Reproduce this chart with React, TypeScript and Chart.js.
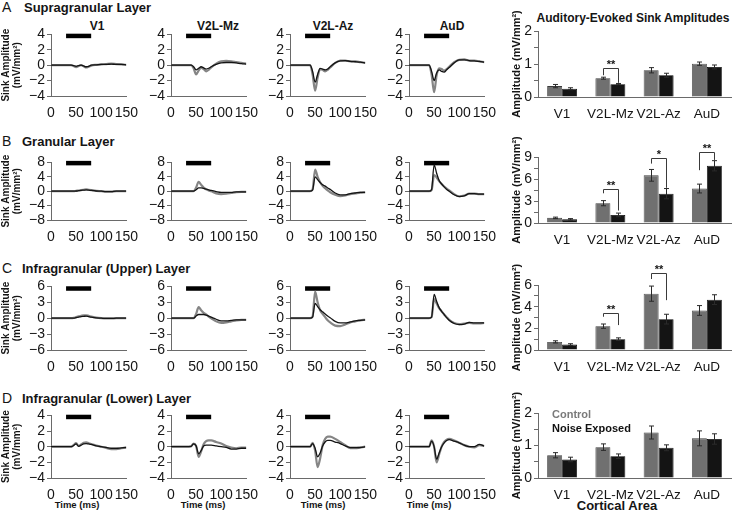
import React, { useEffect, useRef } from 'react';
import { Chart, registerables } from 'chart.js';

Chart.register(...registerables);

// ---------------- data ----------------
const TIME_MS = [0, 10, 20, 30, 40, 45, 50, 55, 60, 65, 70, 75, 80, 90, 100, 110, 120, 130, 140, 150];
const STIMULUS_MS = [30, 80];
const AREAS = ['V1', 'V2L-Mz', 'V2L-Az', 'AuD'];
const LAYER_LETTERS = ['A', 'B', 'C', 'D'];
const LAYER_NAMES = ['Supragranular Layer', 'Granular Layer', 'Infragranular (Upper) Layer', 'Infragranular (Lower) Layer'];
const SERIES_NAMES = ['Control', 'Noise Exposed'];

const LINE_Y_MAX = [4, 8, 6, 4];
const LINE_Y_STEP = [2, 4, 3, 2];
const STIM_LEVEL = [3.8, 7.8, 5.6, 3.8];
const BAR_Y_MAX = [2, 9, 6, 2];
const BAR_Y_MAJOR = [1, 3, 2, 1];
const BAR_Y_MINOR = [0.5, 1.5, 1, 0.5];

// Row A – supragranular
const A_V1_CTRL = [0, 0, 0, 0, 0, -0.1, -0.25, -0.1, 0, -0.15, -0.3, -0.2, -0.05, 0.05, 0.1, 0.15, 0.2, 0.15, 0.1, 0.05];
const A_V1_NOISE = [0, 0, 0, 0, 0, -0.05, -0.15, -0.05, 0, -0.1, -0.2, -0.15, 0, 0.05, 0.1, 0.1, 0.15, 0.1, 0.1, 0.05];
const A_MZ_CTRL = [0, 0, 0, 0, 0, -0.4, -1.2, -0.7, -0.35, -0.5, -0.8, -0.6, -0.3, 0.2, 0.5, 0.55, 0.5, 0.4, 0.3, 0.2];
const A_MZ_NOISE = [0, 0, 0, 0, 0, -0.2, -0.6, -0.4, -0.2, -0.35, -0.5, -0.4, -0.2, 0.1, 0.3, 0.35, 0.35, 0.3, 0.2, 0.15];
const A_AZ_CTRL = [0, 0, 0, 0, 0, -1.2, -3.3, -1.6, -0.5, -0.6, -0.8, -0.6, -0.3, 0.3, 0.6, 0.6, 0.5, 0.5, 0.4, 0.3];
const A_AZ_NOISE = [0, 0, 0, 0, 0, -0.8, -2.2, -1.2, -0.4, -0.5, -0.6, -0.5, -0.2, 0.3, 0.55, 0.6, 0.5, 0.45, 0.4, 0.3];
const A_AUD_CTRL = [0, 0, 0, 0, 0, -1.2, -3.5, -1.3, -0.4, -0.5, -0.7, -0.5, -0.2, 0.4, 0.7, 0.75, 0.6, 0.6, 0.5, 0.4];
const A_AUD_NOISE = [0, 0, 0, 0, 0, -0.8, -2.0, -1.0, -0.6, -0.8, -0.9, -0.6, -0.3, 0.3, 0.7, 0.7, 0.6, 0.55, 0.5, 0.4];

// Row B – granular
const B_V1_CTRL = [0, 0, 0, 0, 0, 0, 0.1, 0.2, 0.3, 0.4, 0.5, 0.4, 0.3, 0.1, 0, -0.1, -0.1, 0, 0, 0];
const B_V1_NOISE = [0, 0, 0, 0, 0, 0, 0.05, 0.15, 0.25, 0.3, 0.35, 0.3, 0.2, 0.05, 0, -0.1, -0.1, 0, 0, 0];
const B_MZ_CTRL = [0, 0, 0, 0, 0, 0, 1.0, 2.6, 1.8, 1.0, 0.5, 0.2, 0, -0.6, -0.8, -0.7, -0.5, -0.3, -0.2, -0.2];
const B_MZ_NOISE = [0, 0, 0, 0, 0, 0, 0.4, 0.9, 0.9, 0.8, 0.6, 0.4, 0.2, -0.1, -0.3, -0.3, -0.3, -0.2, -0.2, -0.2];
const B_AZ_CTRL = [0, 0, 0, 0, 0, 0.5, 6.0, 4.0, 2.5, 1.5, 0.8, 0.2, -0.3, -1.0, -1.4, -1.2, -0.8, -0.6, -0.4, -0.3];
const B_AZ_NOISE = [0, 0, 0, 0, 0, 0.3, 4.0, 3.2, 2.4, 1.8, 1.4, 0.9, 0.5, -0.5, -1.0, -1.0, -0.7, -0.5, -0.3, -0.3];
const B_AUD_CTRL = [0, 0, 0, 0, 0, 0.3, 4.5, 3.8, 2.8, 2.0, 1.3, 0.7, 0.2, -0.8, -1.4, -1.2, -0.7, -0.7, -0.8, -0.8];
const B_AUD_NOISE = [0, 0, 0, 0, 0, 0.5, 7.3, 5.0, 3.0, 2.0, 1.2, 0.5, 0, -1.0, -1.5, -1.3, -0.7, -0.7, -0.8, -0.8];

// Row C – infragranular (upper)
const C_V1_CTRL = [0, 0, 0, 0, 0, 0.05, 0.2, 0.35, 0.45, 0.55, 0.55, 0.45, 0.3, 0.1, 0, -0.05, -0.05, 0, 0, 0];
const C_V1_NOISE = [0, 0, 0, 0, 0, 0, 0.1, 0.2, 0.3, 0.35, 0.4, 0.3, 0.2, 0.05, 0, -0.05, -0.05, 0, 0, 0];
const C_MZ_CTRL = [0, 0, 0, 0, 0, 0, 0.8, 2.1, 1.5, 1.0, 0.7, 0.3, 0, -0.6, -0.9, -0.8, -0.6, -0.4, -0.3, -0.3];
const C_MZ_NOISE = [0, 0, 0, 0, 0, 0, 0.4, 0.7, 0.7, 0.7, 0.6, 0.4, 0.2, -0.2, -0.5, -0.5, -0.4, -0.3, -0.3, -0.3];
const C_AZ_CTRL = [0, 0, 0, 0, 0, 0.3, 5.0, 3.0, 1.5, 0.8, 0.2, -0.4, -0.8, -1.4, -1.5, -1.2, -0.8, -0.6, -0.4, -0.3];
const C_AZ_NOISE = [0, 0, 0, 0, 0, 0.2, 2.8, 2.2, 1.6, 1.2, 0.8, 0.4, 0.1, -0.6, -0.9, -0.9, -0.7, -0.5, -0.4, -0.3];
const C_AUD_CTRL = [0, 0, 0, 0, 0, 0.2, 3.6, 2.8, 1.9, 1.3, 0.7, 0.2, -0.3, -0.9, -1.1, -1.0, -0.9, -1.0, -1.0, -0.9];
const C_AUD_NOISE = [0, 0, 0, 0, 0, 0.2, 4.5, 3.2, 2.0, 1.3, 0.7, 0.1, -0.4, -1.0, -1.2, -1.1, -0.8, -0.9, -0.9, -0.9];

// Row D – infragranular (lower)
const D_V1_CTRL = [0, 0, 0, 0, 0, 0.2, 0.45, 0.1, 0.3, 0.5, 0.55, 0.45, 0.35, 0.15, 0, -0.15, -0.3, -0.3, -0.2, -0.1];
const D_V1_NOISE = [0, 0, 0, 0, 0, 0.15, 0.35, 0.05, 0.2, 0.35, 0.4, 0.35, 0.3, 0.1, 0, -0.1, -0.2, -0.2, -0.15, -0.1];
const D_MZ_CTRL = [0, 0, 0, 0, 0.05, 0.4, 0.1, -1.3, -0.6, 0.3, 0.7, 0.8, 0.8, 0.6, 0.4, 0.1, -0.1, -0.2, -0.1, -0.1];
const D_MZ_NOISE = [0, 0, 0, 0, 0.05, 0.35, 0.1, -0.9, -0.5, 0.1, 0.2, 0.2, 0.2, 0.1, 0, -0.1, -0.3, -0.3, -0.2, -0.2];
const D_AZ_CTRL = [0, 0, 0, 0, 0, 0.5, -0.5, -2.6, -1.5, 0.2, 1.0, 1.3, 1.3, 1.0, 0.6, 0.2, -0.2, -0.2, -0.1, 0];
const D_AZ_NOISE = [0, 0, 0, 0, 0, 0.4, -0.2, -1.3, -0.8, 0.1, 0.6, 0.8, 0.8, 0.6, 0.4, 0.1, -0.1, -0.1, -0.1, 0];
const D_AUD_CTRL = [0, 0, 0, 0, 0, 0.8, 0, -2.0, -1.0, 0, 0.6, 0.9, 1.0, 0.8, 0.5, 0.2, 0, -0.1, 0.2, 0.1];
const D_AUD_NOISE = [0, 0, 0, 0, 0, 0.7, 0, -1.6, -0.8, 0, 0.5, 0.8, 0.9, 0.7, 0.5, 0.2, 0, 0, 0.3, 0.1];

// Bar amplitudes (mean, SEM)
const A_CTRL = [0.33, 0.57, 0.81, 1.01];
const A_CTRL_SEM = [0.05, 0.03, 0.08, 0.05];
const A_NOISE = [0.25, 0.39, 0.66, 0.91];
const A_NOISE_SEM = [0.03, 0.02, 0.06, 0.06];
const B_CTRL = [0.7, 2.7, 6.5, 4.7];
const B_CTRL_SEM = [0.1, 0.35, 0.8, 0.6];
const B_NOISE = [0.5, 1.1, 4.0, 7.8];
const B_NOISE_SEM = [0.1, 0.25, 0.7, 0.7];
const C_CTRL = [0.75, 2.2, 5.2, 3.65];
const C_CTRL_SEM = [0.1, 0.2, 0.7, 0.45];
const C_NOISE = [0.5, 1.0, 2.85, 4.65];
const C_NOISE_SEM = [0.08, 0.12, 0.45, 0.45];
const D_CTRL = [0.7, 0.95, 1.4, 1.22];
const D_CTRL_SEM = [0.08, 0.1, 0.2, 0.23];
const D_NOISE = [0.57, 0.67, 0.93, 1.2];
const D_NOISE_SEM = [0.07, 0.07, 0.09, 0.16];

// Significance brackets
const A_SIG = [{ area: 1, text: '**', level: 0.88, leftEnd: 0.66, rightEnd: 0.43 }];
const B_SIG = [
  { area: 1, text: '**', level: 4.6, leftEnd: 4.05, rightEnd: 1.7 },
  { area: 2, text: '*', level: 8.8, leftEnd: 8.1, rightEnd: 4.8 },
  { area: 3, text: '**', level: 9.7, leftEnd: 7.2, rightEnd: 8.6 },
];
const C_SIG = [
  { area: 1, text: '**', level: 3.44, leftEnd: 3.07, rightEnd: 2.3 },
  { area: 2, text: '**', level: 7.08, leftEnd: 6.55, rightEnd: 4.6 },
];
const D_SIG: any[] = [];

const TRACES = [
  [[A_V1_CTRL, A_V1_NOISE], [A_MZ_CTRL, A_MZ_NOISE], [A_AZ_CTRL, A_AZ_NOISE], [A_AUD_CTRL, A_AUD_NOISE]],
  [[B_V1_CTRL, B_V1_NOISE], [B_MZ_CTRL, B_MZ_NOISE], [B_AZ_CTRL, B_AZ_NOISE], [B_AUD_CTRL, B_AUD_NOISE]],
  [[C_V1_CTRL, C_V1_NOISE], [C_MZ_CTRL, C_MZ_NOISE], [C_AZ_CTRL, C_AZ_NOISE], [C_AUD_CTRL, C_AUD_NOISE]],
  [[D_V1_CTRL, D_V1_NOISE], [D_MZ_CTRL, D_MZ_NOISE], [D_AZ_CTRL, D_AZ_NOISE], [D_AUD_CTRL, D_AUD_NOISE]],
];
const BARS = [
  [A_CTRL, A_CTRL_SEM, A_NOISE, A_NOISE_SEM, A_SIG],
  [B_CTRL, B_CTRL_SEM, B_NOISE, B_NOISE_SEM, B_SIG],
  [C_CTRL, C_CTRL_SEM, C_NOISE, C_NOISE_SEM, C_SIG],
  [D_CTRL, D_CTRL_SEM, D_NOISE, D_NOISE_SEM, D_SIG],
];

// ---------------- layout / style ----------------
const FONT = '"Liberation Sans", Arial, Helvetica, sans-serif';
const AXIS = '#6a6a6a';
const TXT = '#151515';
const CTRL_COLOR = '#707070';
const NOISE_COLOR = '#141414';
const LINE_LEFT = [51, 171, 290, 409];
const LINE_W = 82;
const ROW_TOP = [32, 160, 284, 413];
const ROW_BOTTOM = [96, 220, 350, 478];
const BAR_TOP = [31, 157, 285, 413];
const BAR_BOTTOM = [97, 223, 350, 478];
const BAR_LEFT = 538;
const BAR_RIGHT = 731;
const X_AXIS_H = 26;
const LINE_TICK_SIZE = 14;
const BAR_TICK_SIZE = 13.5;

const fmtTick = (v: number) => (v < 0 ? '\u2212' + Math.abs(v) : String(v));

const errorBarPlugin = {
  id: 'errorBars',
  afterDatasetsDraw(chart: any) {
    const ctx = chart.ctx;
    const y = chart.scales.y;
    chart.data.datasets.forEach((ds: any, di: number) => {
      if (!ds.errors) return;
      chart.getDatasetMeta(di).data.forEach((bar: any, i: number) => {
        const v = ds.data[i];
        const e = ds.errors[i];
        const x = Math.round(bar.x) + 0.5;
        const yt = y.getPixelForValue(v + e);
        const yb = y.getPixelForValue(v - e);
        ctx.save();
        ctx.strokeStyle = '#2a2a2a';
        ctx.lineWidth = 1;
        ctx.beginPath();
        ctx.moveTo(x, yt);
        ctx.lineTo(x, yb);
        ctx.moveTo(x - 2.5, yt);
        ctx.lineTo(x + 2.5, yt);
        ctx.moveTo(x - 2.5, yb);
        ctx.lineTo(x + 2.5, yb);
        ctx.stroke();
        ctx.restore();
      });
    });
  },
};

const sigPlugin = {
  id: 'sigBrackets',
  afterDatasetsDraw(chart: any, _args: any, opts: any) {
    const items = (opts && opts.items) || [];
    const ctx = chart.ctx;
    const y = chart.scales.y;
    items.forEach((it: any) => {
      const b0 = chart.getDatasetMeta(0).data[it.area];
      const b1 = chart.getDatasetMeta(1).data[it.area];
      const x0 = Math.round(b0.x) + 0.5;
      const x1 = Math.round(b1.x) + 0.5;
      const yl = Math.round(y.getPixelForValue(it.level)) + 0.5;
      ctx.save();
      ctx.strokeStyle = '#3a3a3a';
      ctx.lineWidth = 1;
      ctx.beginPath();
      ctx.moveTo(x0, y.getPixelForValue(it.leftEnd));
      ctx.lineTo(x0, yl);
      ctx.lineTo(x1, yl);
      ctx.lineTo(x1, y.getPixelForValue(it.rightEnd));
      ctx.stroke();
      ctx.fillStyle = TXT;
      ctx.font = `bold 11px ${FONT}`;
      ctx.textAlign = 'center';
      ctx.textBaseline = 'alphabetic';
      ctx.fillText(it.text, (x0 + x1) / 2, yl - 1);
      ctx.restore();
    });
  },
};

const innerLegendPlugin = {
  id: 'innerLegend',
  afterDraw(chart: any, _args: any, opts: any) {
    if (!opts || !opts.show) return;
    const ctx = chart.ctx;
    const area = chart.chartArea;
    ctx.save();
    ctx.font = `bold 11px ${FONT}`;
    ctx.textAlign = 'left';
    ctx.textBaseline = 'middle';
    chart.data.datasets.forEach((ds: any, i: number) => {
      ctx.fillStyle = i === 0 ? '#7a7a7a' : '#111';
      ctx.fillText(ds.label, area.left + 14, area.top + 2 + i * 13.5);
    });
    ctx.restore();
  },
};

function makeLineConfig(row: number, col: number) {
  const yW = col === 0 ? 51 : 30;
  const [ctrl, noise] = TRACES[row][col];
  const yMax = LINE_Y_MAX[row];
  const tickFont = { family: FONT, size: LINE_TICK_SIZE };
  return {
    type: 'line',
    data: {
      datasets: [
        {
          label: SERIES_NAMES[1],
          data: TIME_MS.map((t, i) => ({ x: t, y: noise[i] })),
          borderColor: NOISE_COLOR,
          borderWidth: 1.3,
          pointRadius: 0,
          cubicInterpolationMode: 'monotone',
        },
        {
          label: SERIES_NAMES[0],
          data: TIME_MS.map((t, i) => ({ x: t, y: ctrl[i] })),
          borderColor: '#858585',
          borderWidth: 2.2,
          pointRadius: 0,
          cubicInterpolationMode: 'monotone',
        },
        {
          label: 'Stimulus',
          data: STIMULUS_MS.map((t) => ({ x: t, y: STIM_LEVEL[row] })),
          borderColor: '#000',
          borderWidth: 4.5,
          pointRadius: 0,
          borderCapStyle: 'butt',
          clip: false,
        },
      ],
    },
    options: {
      animation: false,
      responsive: false,
      devicePixelRatio: 1,
      events: [],
      layout: { padding: { left: 0, top: 8, right: 14, bottom: 0 } },
      plugins: { legend: { display: false }, tooltip: { enabled: false } },
      scales: {
        x: {
          type: 'linear',
          min: 0,
          max: 150,
          ticks: { stepSize: 50, color: TXT, font: tickFont, padding: 9, maxRotation: 0, autoSkip: false },
          grid: { display: false, drawTicks: false },
          border: { color: AXIS, width: 1 },
          afterFit: (s: any) => {
            s.height = X_AXIS_H;
          },
        },
        y: {
          min: -yMax,
          max: yMax,
          ticks: {
            stepSize: LINE_Y_STEP[row],
            autoSkip: false,
            color: TXT,
            font: tickFont,
            padding: 2,
            callback: (v: number) => fmtTick(v),
          },
          grid: { drawOnChartArea: false, tickLength: 4, color: AXIS },
          border: { color: AXIS, width: 1 },
          title: {
            display: col === 0,
            text: ['Sink Amplitude', '(mV/mm\u00b2)'],
            color: TXT,
            font: { family: FONT, size: 10, weight: 'bold', lineHeight: 1.05 },
            padding: { top: 1, bottom: 0 },
          },
          afterFit: (s: any) => {
            s.width = yW;
          },
        },
      },
    },
  };
}

function makeBarConfig(row: number) {
  const [ctrl, ctrlSem, noise, noiseSem, sig] = BARS[row] as any[];
  const tickFont = { family: FONT, size: BAR_TICK_SIZE };
  const major = BAR_Y_MAJOR[row];
  return {
    type: 'bar',
    data: {
      labels: AREAS,
      datasets: [
        { label: SERIES_NAMES[0], data: ctrl, errors: ctrlSem, backgroundColor: CTRL_COLOR, borderColor: '#3c3c3c', borderWidth: 0.8 },
        { label: SERIES_NAMES[1], data: noise, errors: noiseSem, backgroundColor: NOISE_COLOR, borderColor: '#000', borderWidth: 0.8 },
      ],
    },
    options: {
      animation: false,
      responsive: false,
      devicePixelRatio: 1,
      events: [],
      datasets: { bar: { categoryPercentage: 0.62, barPercentage: 1 } },
      layout: { padding: { left: 0, top: 28, right: 1, bottom: 0 } },
      plugins: {
        legend: { display: false },
        tooltip: { enabled: false },
        sigBrackets: { items: sig },
        innerLegend: { show: row === 3 },
      },
      scales: {
        x: {
          ticks: { color: TXT, font: tickFont, padding: 9, maxRotation: 0, autoSkip: false },
          grid: { display: false, drawTicks: false },
          border: { color: AXIS, width: 1 },
          afterFit: (s: any) => {
            s.height = X_AXIS_H;
          },
        },
        y: {
          min: 0,
          max: BAR_Y_MAX[row],
          ticks: {
            stepSize: BAR_Y_MINOR[row],
            autoSkip: false,
            color: TXT,
            font: { family: FONT, size: LINE_TICK_SIZE },
            padding: 2,
            callback: (v: number) => (Math.abs(v / major - Math.round(v / major)) < 1e-6 ? String(v) : ''),
          },
          grid: { drawOnChartArea: false, tickLength: 4, color: AXIS },
          border: { color: AXIS, width: 1 },
          title: {
            display: true,
            text: 'Amplitude (mV/mm\u00b2)',
            color: TXT,
            font: { family: FONT, size: 11, weight: 'bold', lineHeight: 1.2 },
            padding: { top: 5, bottom: 0 },
          },
          afterFit: (s: any) => {
            s.width = 33;
          },
        },
      },
    },
    plugins: [errorBarPlugin, sigPlugin, innerLegendPlugin],
  };
}

function ChartCanvas({ left, top, width, height, make }: { left: number; top: number; width: number; height: number; make: () => any }) {
  const ref = useRef<HTMLCanvasElement>(null);
  useEffect(() => {
    const chart = new Chart(ref.current as HTMLCanvasElement, make());
    return () => chart.destroy();
  }, []);
  return (
    <canvas
      ref={ref}
      width={width}
      height={height}
      style={{ position: 'absolute', left, top, width, height, display: 'block' }}
    />
  );
}

const PANEL_TITLE_X = [97, 218, 333, 452];
const ROW_TITLE_Y = [0, 134, 261, 391];
const TIME_LABEL_X = [77, 203, 323, 429];

export default function App() {
  const charts: any[] = [];
  for (let r = 0; r < 4; r++) {
    for (let c = 0; c < 4; c++) {
      const yW = c === 0 ? 51 : 30;
      charts.push(
        <ChartCanvas
          key={`l${r}${c}`}
          left={LINE_LEFT[c] - yW}
          top={ROW_TOP[r] - 8}
          width={yW + LINE_W + 14}
          height={8 + (ROW_BOTTOM[r] - ROW_TOP[r]) + X_AXIS_H}
          make={() => makeLineConfig(r, c)}
        />
      );
    }
    charts.push(
      <ChartCanvas
        key={`b${r}`}
        left={BAR_LEFT - 33}
        top={BAR_TOP[r] - 28}
        width={33 + (BAR_RIGHT - BAR_LEFT) + 1}
        height={28 + (BAR_BOTTOM[r] - BAR_TOP[r]) + X_AXIS_H}
        make={() => makeBarConfig(r)}
      />
    );
  }

  return (
    <div
      style={{
        position: 'fixed',
        left: 0,
        top: 0,
        width: 732,
        height: 514,
        background: '#fff',
        overflow: 'hidden',
        fontFamily: FONT,
        color: TXT,
      }}
    >
      {LAYER_NAMES.map((name, r) => (
        <div key={`t${r}`} style={{ position: 'absolute', left: 0, top: ROW_TITLE_Y[r], height: 15, lineHeight: '15px', fontSize: 13, whiteSpace: 'nowrap' }}>
          <span style={{ position: 'absolute', left: 2, fontSize: 14 }}>{LAYER_LETTERS[r]}</span>
          <span style={{ position: 'absolute', left: r === 0 ? 24 : 22, fontWeight: 'bold' }}>{name}</span>
        </div>
      ))}
      {AREAS.map((a, c) => (
        <div key={`p${c}`} style={{ position: 'absolute', left: PANEL_TITLE_X[c] - 40, width: 80, top: 19, height: 14, lineHeight: '14px', fontSize: 12, fontWeight: 'bold', textAlign: 'center' }}>
          {a}
        </div>
      ))}
      <div style={{ position: 'absolute', left: 533, width: 200, top: 11, lineHeight: '14px', fontSize: 12, fontWeight: 'bold', textAlign: 'center', whiteSpace: 'nowrap' }}>
        Auditory-Evoked Sink Amplitudes
      </div>
      {TIME_LABEL_X.map((x, c) => (
        <div key={`tm${c}`} style={{ position: 'absolute', left: x - 30, width: 60, top: 499, lineHeight: '12px', fontSize: 9.5, fontWeight: 'bold', textAlign: 'center' }}>
          Time (ms)
        </div>
      ))}
      <div style={{ position: 'absolute', left: 557, width: 120, top: 499, lineHeight: '14px', fontSize: 13, fontWeight: 'bold', textAlign: 'center' }}>
        Cortical Area
      </div>
      {charts}
    </div>
  );
}
